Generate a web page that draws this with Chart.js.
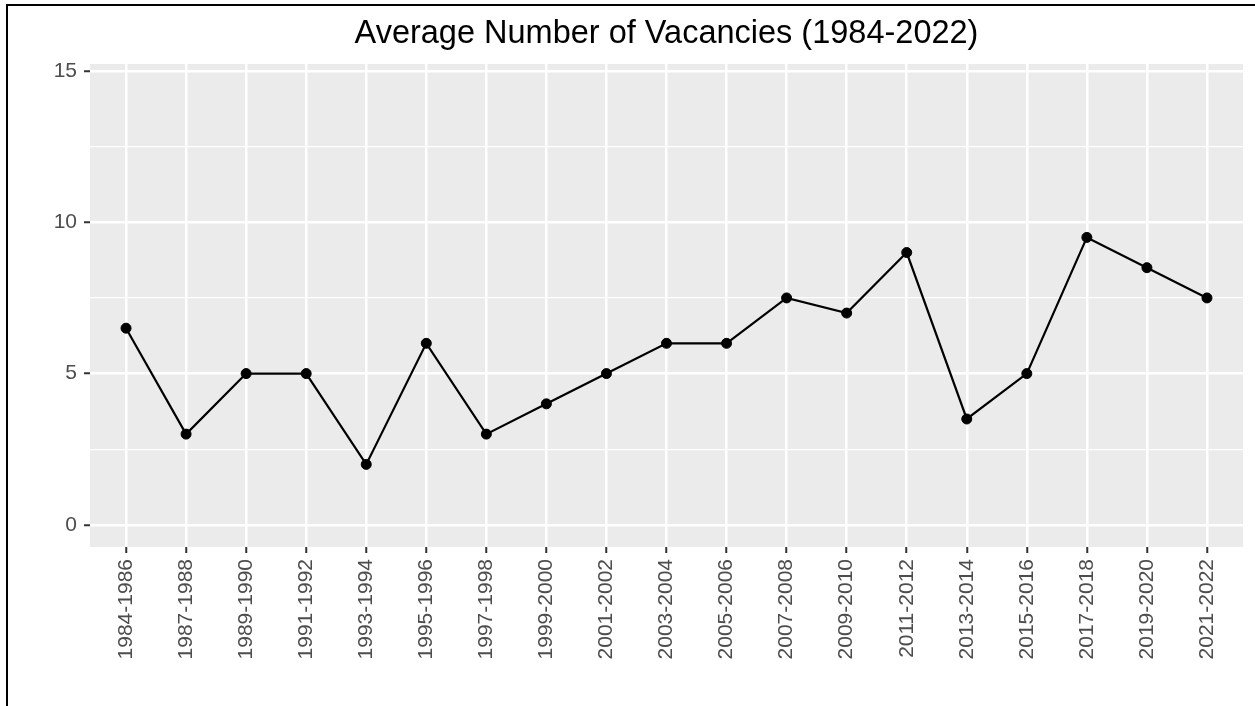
<!DOCTYPE html>
<html>
<head>
<meta charset="utf-8">
<title>Average Number of Vacancies</title>
<script src="https://cdn.jsdelivr.net/npm/chart.js@4"></script>
<style>
  body { margin: 0; background: #fff; }
  canvas { display: block; }
</style>
</head>
<body>
<canvas id="vacChart" width="1255" height="706"></canvas>
<script>
// data
const periods = ['1984-1986', '1987-1988', '1989-1990', '1991-1992', '1993-1994', '1995-1996',
  '1997-1998', '1999-2000', '2001-2002', '2003-2004', '2005-2006', '2007-2008', '2009-2010',
  '2011-2012', '2013-2014', '2015-2016', '2017-2018', '2019-2020', '2021-2022']
const vacancies = [6.5, 3, 5, 5, 2, 6, 3, 4, 5, 6, 6, 7.5, 7, 9, 3.5, 5, 9.5, 8.5, 7.5]
const yMajor = [0, 5, 10, 15]
const yMinor = [2.5, 7.5, 12.5]

const points = periods.map((p, i) => ({ x: i, y: vacancies[i] }))

// grey panel behind the grid + the frame on top/left
const panelBg = {
  id: 'panelBg',
  beforeDraw(chart) {
    const { ctx, chartArea: a } = chart
    ctx.save()
    ctx.fillStyle = '#EBEBEB'
    ctx.fillRect(a.left, a.top, a.right - a.left, a.bottom - a.top)
    ctx.restore()
  },
  afterDraw(chart) {
    const ctx = chart.ctx
    ctx.save()
    ctx.fillStyle = '#000'
    ctx.fillRect(6, 4, chart.width - 6, 2)
    ctx.fillRect(6, 4, 2, chart.height - 4)
    ctx.restore()
  }
}

const isMajor = v => yMajor.includes(v)

const ctx = document.getElementById('vacChart').getContext('2d')
const vacChart = new Chart(ctx, {
  type: 'line',
  data: {
    datasets: [{
      data: points,
      borderColor: '#000',
      borderWidth: 2.2,
      backgroundColor: '#000',
      pointRadius: 5,
      pointBorderWidth: 1,
      pointBackgroundColor: '#000',
      tension: 0
    }]
  },
  options: {
    responsive: false,
    animation: false,
    layout: { padding: { left: 0, right: 12, top: 0, bottom: 0 } },
    plugins: {
      legend: { display: false },
      tooltip: { enabled: false },
      title: {
        display: true,
        fullSize: false,
        text: 'Average Number of Vacancies (1984-2022)',
        color: '#000',
        font: { family: '"Liberation Sans", Arial, sans-serif', size: 32.5, weight: 'normal', lineHeight: 1.2 },
        padding: { top: 15, bottom: 10 }
      }
    },
    scales: {
      x: {
        type: 'linear',
        min: -0.6,
        max: 18.6,
        afterBuildTicks: s => { s.ticks = periods.map((p, i) => ({ value: i })) },
        afterFit: s => { s.height = 159 },
        border: { display: false },
        grid: { color: '#fff', lineWidth: 2.5, tickColor: '#333', tickWidth: 2, tickLength: 6 },
        ticks: {
          autoSkip: false,
          maxRotation: 90,
          minRotation: 90,
          padding: 6,
          color: '#4D4D4D',
          font: { family: '"Liberation Sans", Arial, sans-serif', size: 21 },
          callback: v => periods[v]
        }
      },
      y: {
        min: -0.73,
        max: 15.23,
        afterBuildTicks: s => {
          s.ticks = yMajor.concat(yMinor).sort((a, b) => a - b).map(v => ({ value: v }))
        },
        afterFit: s => { s.width = 90 },
        border: { display: false },
        grid: {
          color: '#fff',
          lineWidth: c => isMajor(c.tick.value) ? 2.5 : 1.2,
          tickColor: c => isMajor(c.tick.value) ? '#333' : 'rgba(0,0,0,0)',
          tickWidth: 2,
          tickLength: 6
        },
        ticks: {
          padding: 7,
          color: '#4D4D4D',
          font: { family: '"Liberation Sans", Arial, sans-serif', size: 21 },
          callback: v => isMajor(v) ? String(v) : ''
        }
      }
    }
  },
  plugins: [panelBg]
})
</script>
</body>
</html>
